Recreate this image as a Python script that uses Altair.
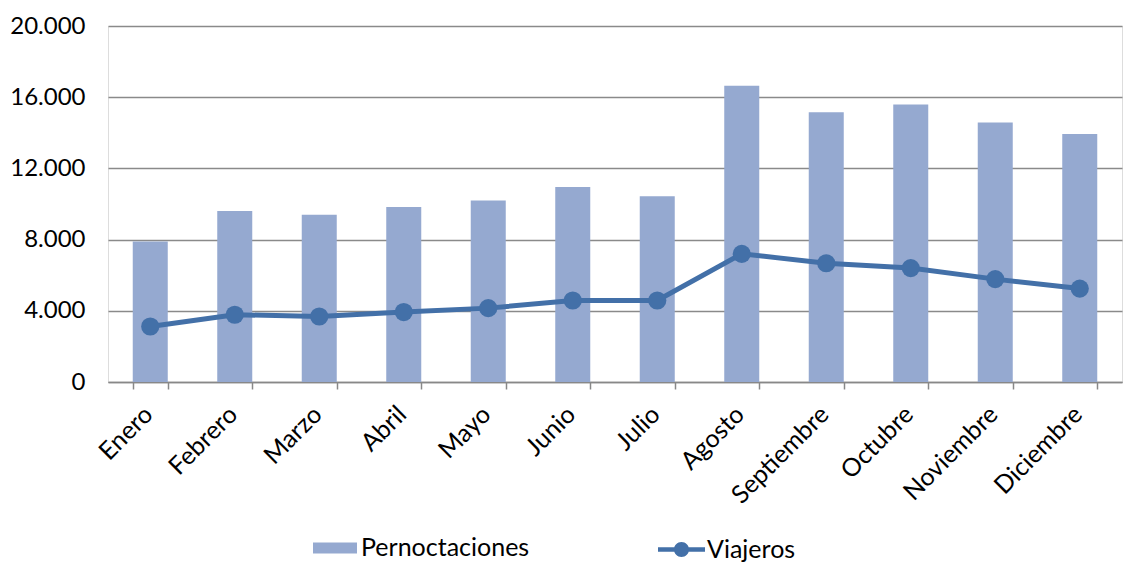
import altair as alt
import pandas as pd

meses = ["Enero", "Febrero", "Marzo", "Abril", "Mayo", "Junio", "Julio",
         "Agosto", "Septiembre", "Octubre", "Noviembre", "Diciembre"]
pernoctaciones = [7890, 9610, 9390, 9830, 10190, 10950, 10430, 16640, 15160, 15590, 14580, 13930]
viajeros = [3120, 3780, 3680, 3930, 4150, 4580, 4580, 7200, 6670, 6400, 5780, 5250]

df = pd.DataFrame({
    "mes": meses,
    "Pernoctaciones": pernoctaciones,
    "Viajeros": viajeros,
    "s1": ["Pernoctaciones"] * 12,
    "s2": ["Viajeros"] * 12,
})

FONT = "Lato"
BAR = "#95A9D0"
LINE = "#4370A8"

x = alt.X("mes:N", sort=meses, title=None,
          scale=alt.Scale(paddingInner=0.58, paddingOuter=0.29),
          axis=alt.Axis(labelAngle=-45, labelFontSize=25, labelFont=FONT, labelColor="#000000",
                        labelPadding=21, labelOffset=-2, tickBand="extent", tickSize=7,
                        tickColor="#888888", domainColor="#888888", domainWidth=1.5,
                        tickWidth=1.5, grid=False, labelAlign="right", labelBaseline="middle"))

y_axis = alt.Axis(values=[0, 4000, 8000, 12000, 16000, 20000],
                  labelExpr="replace(format(datum.value, ','), ',', '.')",
                  labelFontSize=24, labelFont=FONT, labelColor="#000000", labelPadding=23,
                  domain=False, ticks=False, gridColor="#8A8A8A", gridWidth=1.5, title=None)

bars = alt.Chart(df).mark_bar(size=35).encode(
    x=x,
    y=alt.Y("Pernoctaciones:Q", scale=alt.Scale(domain=[0, 20000], nice=False), axis=y_axis),
    fill=alt.Fill("s1:N", title=None,
                  scale=alt.Scale(domain=["Pernoctaciones"], range=[BAR]),
                  legend=alt.Legend(orient="none", legendX=205, legendY=500,
                                    symbolType="M-1,-0.25H1V0.25H-1Z", symbolSize=1936,
                                    symbolStrokeWidth=0, labelFontSize=25, labelFont=FONT,
                                    labelColor="#000000", labelOffset=4, labelLimit=400)),
)

line = alt.Chart(df).mark_line(strokeWidth=5).encode(
    x=x,
    y=alt.Y("Viajeros:Q", scale=alt.Scale(domain=[0, 20000], nice=False), axis=y_axis),
    stroke=alt.Stroke("s2:N", title=None,
                      scale=alt.Scale(domain=["Viajeros"], range=[LINE]),
                      legend=alt.Legend(orient="none", legendX=550, legendY=500,
                                        symbolType="M-1,-0.1H-0.2V0.1H-1Z M0.2,-0.1H1V0.1H0.2Z M0.32,0A0.32,0.32 0 1,1 -0.32,0A0.32,0.32 0 1,1 0.32,0Z",
                                        symbolSize=2209, symbolFillColor=LINE, symbolStrokeWidth=0,
                                        labelFontSize=25, labelFont=FONT,
                                        labelColor="#000000", labelOffset=2, labelLimit=400)),
)

points = alt.Chart(df).mark_point(filled=True, size=330, opacity=1, color=LINE).encode(
    x=x,
    y=alt.Y("Viajeros:Q", scale=alt.Scale(domain=[0, 20000], nice=False), axis=y_axis),
)

chart = alt.layer(bars, line, points).properties(
    width=1014, height=356,
    padding={"left": 100, "top": 18, "right": 1, "bottom": 180},
    autosize="none",
).configure_view(stroke=None).configure(background="#ffffff")

chart.save("out.html", embed_options={"renderer": "svg", "actions": False})
